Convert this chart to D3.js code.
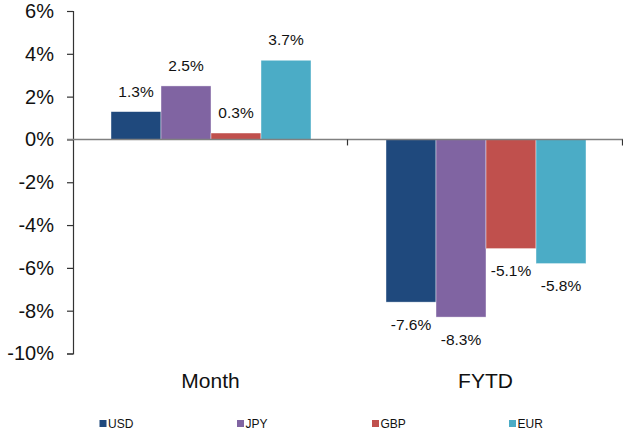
<!DOCTYPE html>
<html><head><meta charset="utf-8">
<script src="https://cdn.jsdelivr.net/npm/d3@7"></script>
<style>body{margin:0;background:#fff}svg{display:block;font-family:"Liberation Sans",Arial,sans-serif}</style>
</head><body>
<svg id="c" width="623" height="434"></svg>
<script>
const categories = ["Month", "FYTD"];
const seriesNames = ["USD", "JPY", "GBP", "EUR"];
const seriesColors = ["#1F497D", "#8064A2", "#C0504D", "#4BACC6"];
const usd = [1.3, -7.6];
const jpy = [2.5, -8.3];
const gbp = [0.3, -5.1];
const eur = [3.7, -5.8];
const yTicks = [-10, -8, -6, -4, -2, 0, 2, 4, 6];
const legendX = [99.5, 237, 372, 509];

const seriesValues = [usd, jpy, gbp, eur];
const svg = d3.select("#c");

const y = d3.scaleLinear().domain([-10, 6]).range([353.5, 11]);
const x0 = d3.scaleBand().domain(categories).range([73, 623]).padding(0);
const x1 = d3.scaleBand().domain(seriesNames).range([38, 238]).padding(0);

// bars
const data = [];
categories.forEach((c, ci) => seriesNames.forEach((s, si) => data.push({c, s, si, v: seriesValues[si][ci]})));

svg.append("g").selectAll("rect").data(data).join("rect")
  .attr("x", d => x0(d.c) + x1(d.s))
  .attr("width", x1.bandwidth())
  .attr("y", d => y(Math.max(0, d.v)))
  .attr("height", d => Math.abs(y(d.v) - y(0)))
  .attr("fill", d => seriesColors[d.si])
  .attr("stroke", "rgba(255,255,255,0.7)")
  .attr("stroke-width", 0.6);

// value labels
svg.append("g").selectAll("text").data(data).join("text")
  .attr("x", d => x0(d.c) + x1(d.s) + x1.bandwidth() / 2)
  .attr("y", d => d.v >= 0 ? y(d.v) - 15 : y(d.v) + 27.5)
  .attr("text-anchor", "middle")
  .attr("font-size", 15.5)
  .attr("fill", "#111")
  .text(d => d.v.toFixed(1) + "%");

// y axis
const yAxis = d3.axisLeft(y).tickValues(yTicks).tickSize(6).tickPadding(13)
  .tickFormat(d => d + "%");
const ya = svg.append("g").attr("transform", "translate(73,0)").call(yAxis);
ya.select(".domain").attr("stroke", "#333").attr("stroke-width", 1.2);
ya.selectAll(".tick line").attr("stroke", "#333").attr("stroke-width", 1.2);
ya.selectAll(".tick text").attr("font-size", 20).attr("fill", "#111")
  .attr("font-family", "'Liberation Sans', Arial, sans-serif");

// zero line (category axis)
svg.append("line").attr("x1", 67).attr("x2", 623).attr("y1", y(0)).attr("y2", y(0))
  .attr("stroke", "#808080").attr("stroke-width", 1.6);
svg.append("g").selectAll("line").data(categories).join("line")
  .attr("x1", d => x0(d) + x0.bandwidth() - 0.5).attr("x2", d => x0(d) + x0.bandwidth() - 0.5)
  .attr("y1", y(0)).attr("y2", y(0) + 6)
  .attr("stroke", "#333").attr("stroke-width", 1.2);

// category labels
svg.append("g").selectAll("text").data(categories).join("text")
  .attr("x", d => x0(d) + x0.bandwidth() / 2)
  .attr("y", 388)
  .attr("text-anchor", "middle")
  .attr("font-size", 21)
  .attr("fill", "#111")
  .text(d => d);

// legend
const lg = svg.append("g").selectAll("g").data(seriesNames).join("g")
  .attr("transform", (d, i) => `translate(${legendX[i]},420)`);
lg.append("rect").attr("width", 7).attr("height", 7).attr("fill", (d, i) => seriesColors[i]);
lg.append("text").attr("x", 8.5).attr("y", 8).attr("font-size", 12).attr("fill", "#111").text(d => d);
</script>
</body></html>
